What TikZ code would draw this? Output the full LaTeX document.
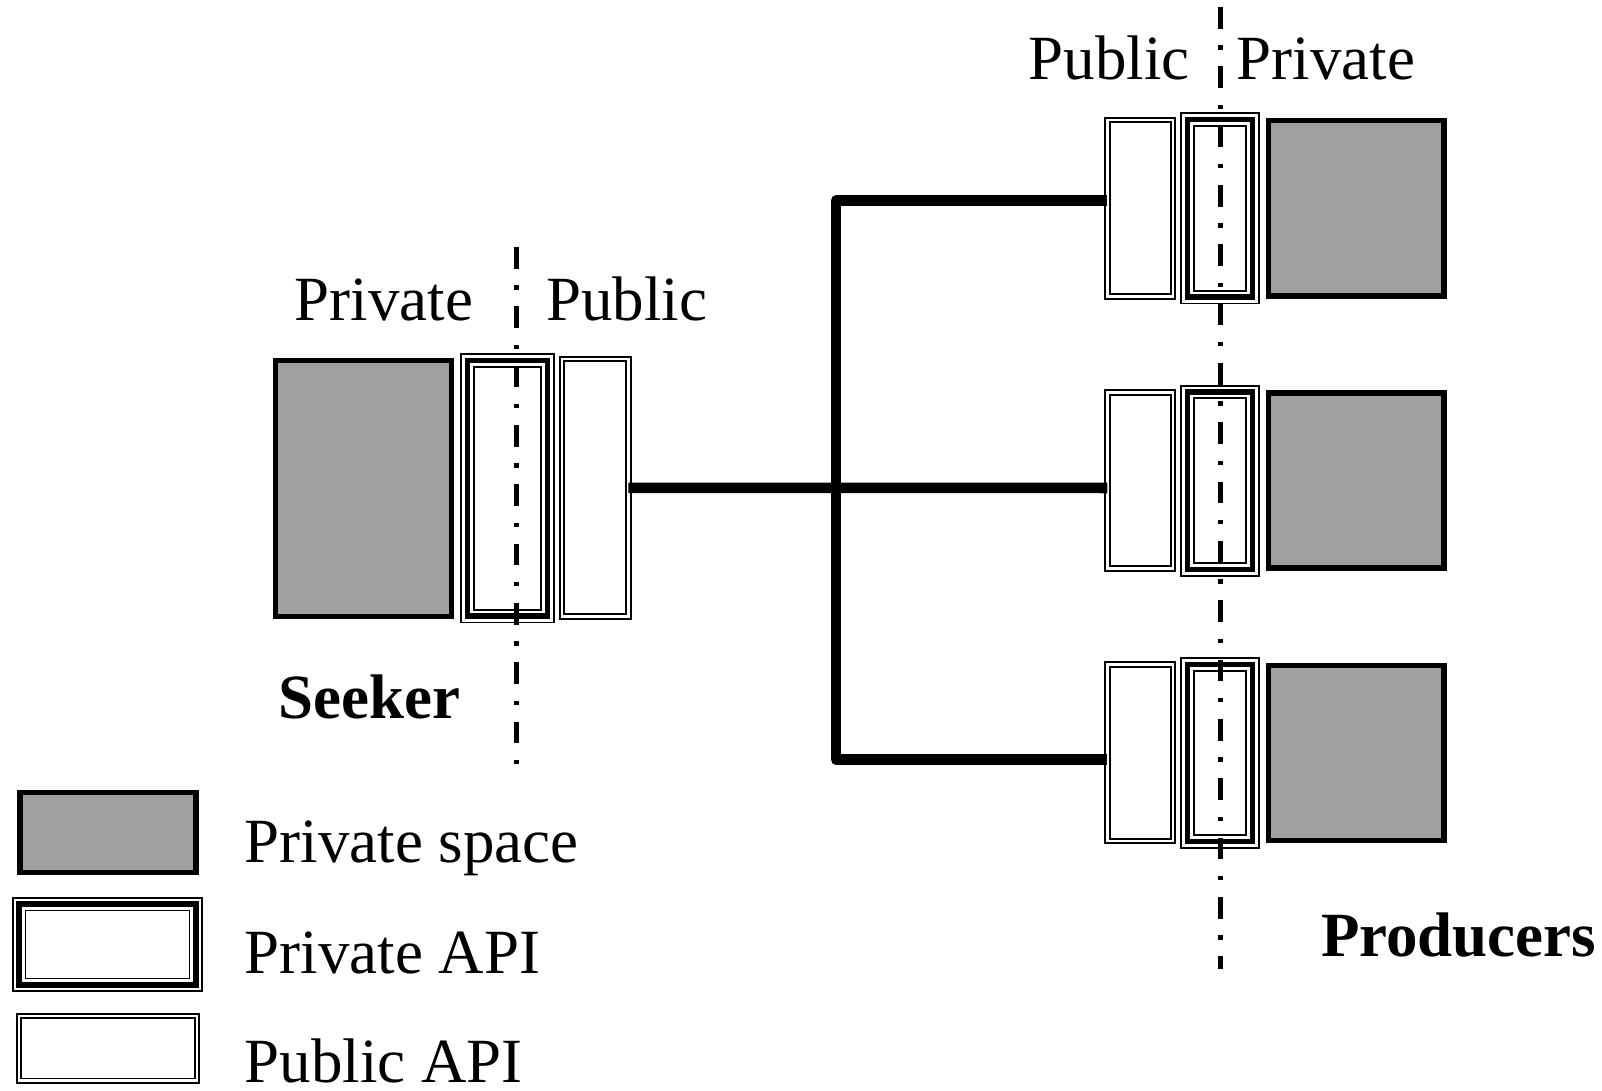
\documentclass[tikz,border=0pt]{standalone}
\usepackage{fontspec}
\setmainfont{Liberation Serif}
\usetikzlibrary{calc}
\definecolor{spacegray}{RGB}{160,160,160}
\begin{document}
\begin{tikzpicture}[x=0.01cm, y=-0.01cm,
  space/.style={draw, line width=0.055cm, fill=spacegray, inner sep=0, outer sep=0},
  pubapi/.style={draw, double, line width=0.019cm, double distance=0.027cm,
    fill=white, inner sep=0, outer sep=0},
  privapi/.style={fill=white, inner sep=0, outer sep=0,
    postaction={draw, double, line width=0.019cm, double distance=0.108cm},
    postaction={draw, line width=0.055cm}},
  conn/.style={line width=0.105cm, line join=round},
  border/.style={line width=0.05cm,
    dash pattern=on 0.217cm off 0.167cm on 0.043cm off 0.166cm},
  lbl/.style={anchor=base west, inner sep=0, font=\fontsize{17.9pt}{21pt}\selectfont},
  blbl/.style={lbl, font=\fontsize{17.9pt}{21pt}\selectfont\bfseries}]
\useasboundingbox (0,0) rectangle (1602,1091);

% seeker: private space, private API, public API
\node[space, minimum width=1.762cm, minimum height=2.562cm] (sg) at (363.5,488.5) {};
\node[privapi, minimum width=0.80cm, minimum height=2.555cm] (sv) at (507.5,488.3) {};
\node[pubapi, minimum width=0.661cm, minimum height=2.572cm] (sp) at (595.2,487.8) {};

% producers, three rows
\foreach \i in {1,2,3} {
  \pgfmathsetmacro{\dy}{272.3*(\i-1)}
  \node[pubapi, minimum width=0.657cm, minimum height=1.763cm] (pa\i) at (1140.2,208.2+\dy) {};
  \node[privapi, minimum width=0.65cm, minimum height=1.773cm] (pv\i) at (1220,208.4+\dy) {};
  \node[space, minimum width=1.755cm, minimum height=1.75cm] (pg\i) at (1356.2,208.3+\dy) {};
}

% connectors
\coordinate (jn) at (836,488);
\draw[conn] (sp.east) -- ($(pa2.west)+(0,7.5)$);
\draw[conn] ($(pa1.west)+(0,-7.7)$) -| (jn) |- ($(pa3.west)+(0,6.9)$);

% private / public boundaries
\coordinate (sbt) at (516,247);
\coordinate (sbb) at (516,764);
\coordinate (pbt) at (1220,7);
\coordinate (pbb) at (1220,969);
\draw[border] (sbt) -- (sbb);
\draw[border] (pbt) -- (pbb);

% labels
\node[lbl] (tsv) at (294,320.7) {Private};
\node[lbl] (tsp) at (545.7,320.7) {Public};
\node[blbl] (tsk) at (277.5,718.3) {Seeker};
\node[lbl] (tpp) at (1028,80) {Public};
\node[lbl] (tpv) at (1236,80) {Private};
\node[blbl] (tpr) at (1320.5,956.7) {Producers};

% legend
\node[space, minimum width=1.76cm, minimum height=0.80cm] (lg) at (107.8,832.5) {};
\node[privapi, minimum width=1.766cm, minimum height=0.806cm] (lv) at (107.5,944.5) {};
\node[pubapi, minimum width=1.778cm, minimum height=0.648cm] (lp) at (107.9,1048.4) {};
\node[lbl] (tlg) at (244,862.7) {Private space};
\node[lbl] (tlv) at (244,973.7) {Private API};
\node[lbl] (tlp) at (244,1082) {Public API};
\end{tikzpicture}
\end{document}
